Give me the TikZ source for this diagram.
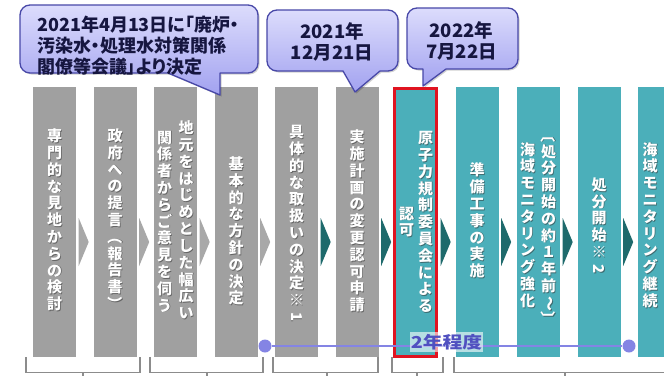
\documentclass[tikz,border=0pt]{standalone}
\usepackage{fontspec}
\usepackage{graphicx}
\newfontfamily\jp{Noto Sans CJK JP}
\newfontfamily\jpp{Noto Sans CJK JP}[RawFeature=+palt]
\usetikzlibrary{calc}
\definecolor{colgray}{HTML}{A0A0A0}
\definecolor{colteal}{HTML}{4BAFBA}
\definecolor{chevgray}{HTML}{A8A8A8}
\definecolor{chevteal}{HTML}{1E6A6C}
\definecolor{callfillt}{HTML}{DCDCFC}
\definecolor{callfillb}{HTML}{A2A2F0}
\definecolor{callline}{HTML}{4848A8}
\definecolor{calltext}{HTML}{161640}
\definecolor{tlcol}{HTML}{8484E4}
\definecolor{tltext}{HTML}{5050C0}
\definecolor{brkcol}{HTML}{8C8C8C}
\definecolor{redbox}{HTML}{E01420}
\newcommand\rot[1]{\rotatebox[origin=c]{-90}{#1}}
\newcommand\vt[4]{%
  \node[vtxt, text=black!80, opacity=.55] (#1s) at (#2+0.8,#3+0.8) {#4};
  \node[vtxt] (#1) at (#2,#3) {#4};}
% callout path: x1 y1 x2 y2 baseR tip baseL
\newcommand\calloutpath[7]{(#1+10,#2) -- (#3-10,#2) arc[start angle=-90,end angle=0,radius=10] -- (#3,#4-10) arc[start angle=0,end angle=90,radius=10] -- (#5,#4) -- (#6) -- (#7,#4) -- (#1+10,#4) arc[start angle=90,end angle=180,radius=10] -- (#1,#2+10) arc[start angle=180,end angle=270,radius=10] -- cycle}
\begin{document}
\begin{tikzpicture}[x=1pt,y=-1pt,
  colbox/.style={rectangle, minimum width=43pt, minimum height=270pt, inner sep=0pt, draw=none},
  vtxt/.style={align=center, inner sep=0pt, text=white, font=\jp\bfseries\fontsize{15}{16.8}\selectfont},
  ctext/.style={inner sep=0pt, text=calltext, font=\jpp\bfseries\fontsize{18}{21}\selectfont},
  ctext2/.style={inner sep=0pt, text=calltext, align=center, font=\jpp\bfseries\fontsize{18.5}{21}\selectfont},
  callout/.style={top color=callfillt, bottom color=callfillb, draw=callline, line width=1.3pt, line join=round},
  cshadow/.style={fill=black, opacity=.18},
  brk/.style={draw=brkcol, line width=1.2pt},
  dot/.style={circle, fill=tlcol, minimum size=13pt, inner sep=0pt},
  tl/.style={draw=tlcol, line width=1.3pt}]
\useasboundingbox (0,0) rectangle (664,375);
\fill[white] (0,0) rectangle (664,375);

% columns
\node[colbox, fill=colgray] (c1) at (54.5,222) {};
\node[colbox, fill=colgray] (c2) at (115,222) {};
\node[colbox, fill=colgray] (c3) at (175.5,222) {};
\node[colbox, fill=colgray] (c4) at (236,222) {};
\node[colbox, fill=colgray] (c5) at (296.5,222) {};
\node[colbox, fill=colgray] (c6) at (357,222) {};
\node[colbox, fill=colteal] (c7) at (416.5,222) {};
\node[colbox, fill=colteal] (c8) at (477,222) {};
\node[colbox, fill=colteal] (c9) at (538.5,222) {};
\node[colbox, fill=colteal] (c10) at (599,222) {};
\node[colbox, fill=colteal] (c11) at (659.5,222) {};

% chevrons
\foreach \a/\c in {c1/chevgray,c2/chevgray,c3/chevgray,c4/chevgray,c5/chevteal,c6/chevteal,c7/chevteal,c8/chevteal,c9/chevteal,c10/chevteal}{
  \fill[\c] ($(\a.east)+(2.5,-4)$) -- ($(\a.east)+(12.5,20)$) -- ($(\a.east)+(2.5,44)$) -- cycle;
}

% column texts
\vt{t1}{54.5}{220}{専\\門\\的\\な\\見\\地\\か\\ら\\の\\検\\討}
\vt{t2}{115}{220}{政\\府\\へ\\の\\提\\言\\\rot{（}\\報\\告\\書\\\rot{）}}
\vt{t3a}{186}{220}{地\\元\\を\\は\\じ\\め\\と\\し\\た\\幅\\広\\い}
\vt{t3b}{164.5}{221.5}{関\\係\\者\\か\\ら\\ご\\意\\見\\を\\伺\\う}
\vt{t4}{236}{231}{基\\本\\的\\な\\方\\針\\の\\決\\定}
\vt{t5}{296.5}{224}{具\\体\\的\\な\\取\\扱\\い\\の\\決\\定\\※\\\rot{1}}
\vt{t6}{357}{221}{実\\施\\計\\画\\の\\変\\更\\認\\可\\申\\請}
\vt{t7a}{425.5}{222}{原\\子\\力\\規\\制\\委\\員\\会\\に\\よ\\る}
\vt{t7b}{406.5}{222}{認\\可}
\vt{t8}{477}{220.5}{準\\備\\工\\事\\の\\実\\施}
\vt{t9a}{548.5}{227}{\rot{〔}\\処\\分\\開\\始\\の\\約\\１\\年\\前\\\rot{～}\\\rot{〕}}
\vt{t9b}{527.5}{225}{海\\域\\モ\\ニ\\タ\\リ\\ン\\グ\\強\\化}
\vt{t10}{599}{226}{処\\分\\開\\始\\※\\\rot{2}}
\vt{t11}{650}{225}{海\\域\\モ\\ニ\\タ\\リ\\ン\\グ\\継\\続}

% red frame
\draw[redbox, line width=2.6pt] (394.5,88.5) rectangle (436.5,356.5);

% callouts
\fill[cshadow, xshift=1.5pt, yshift=-1.5pt] \calloutpath{20}{5}{258}{73}{220}{220,95}{168};
\path[callout] \calloutpath{20}{5}{258}{73}{220}{220,95}{168};
\fill[cshadow, xshift=1.5pt, yshift=-1.5pt] \calloutpath{267}{10}{398}{71}{380}{355,92}{343};
\path[callout] \calloutpath{267}{10}{398}{71}{380}{355,92}{343};
\fill[cshadow, xshift=1.5pt, yshift=-1.5pt] \calloutpath{407}{8}{518}{69}{446}{423,86}{423};
\path[callout] \calloutpath{407}{8}{518}{69}{446}{423,86}{423};

\node[ctext, anchor=west, align=left] (k1) at (37,45.5) {2021年4月13日に「廃炉・\\汚染水・処理水対策関係\\閣僚等会議」より決定};
\node[ctext2] (k2) at (332,41.5) {2021年\\12月21日};
\node[ctext2] (k3) at (461.5,40.5) {2022年\\7月22日};

% timeline
\node[dot] (d1) at (265,346) {};
\node[dot] (d2) at (629,346) {};
\draw[tl] (d1) -- (d2);
\node[fill=white, fill opacity=.6, text opacity=1, inner xsep=1pt, inner ysep=2pt, text=tltext,
  font=\jp\bfseries\fontsize{16.5}{16.5}\selectfont] (lbl) at (446.5,342) {\scalebox{1.2}[1]{2年程度}};

% brackets
\draw[brk] (26,357) -- (26,372.5) -- (140,372.5) -- (140,357);
\draw[brk] (83,372.5) -- (83,376);
\draw[brk] (150,357) -- (150,372.5) -- (263,372.5) -- (263,357);
\draw[brk] (207,372.5) -- (207,376);
\draw[brk] (273,357) -- (273,372.5) -- (378,372.5) -- (378,357);
\draw[brk] (327,372.5) -- (327,376);
\draw[brk] (392,357) -- (392,372.5) -- (443,372.5) -- (443,357);
\draw[brk] (417,372.5) -- (417,376);
\draw[brk] (454,357) -- (454,372.5) -- (670,372.5);
\draw[brk] (565,372.5) -- (565,376);
\end{tikzpicture}
\end{document}
